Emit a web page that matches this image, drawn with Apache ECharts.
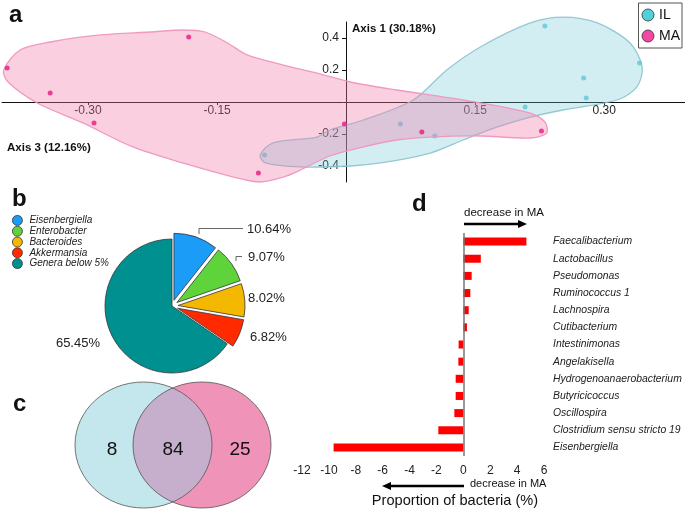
<!DOCTYPE html>
<html><head><meta charset="utf-8">
<script src="https://cdn.jsdelivr.net/npm/echarts@6/dist/echarts.min.js"></script>
<style>html,body{margin:0;padding:0;background:#fff}#c{width:685px;height:514px}</style>
</head><body><div id="c"></div>
<script>
// ---------- Panel a: PCoA scatter ----------
const maPoints = [[-0.394,0.2125],[-0.344,0.056],[-0.293,-0.131],[-0.183,0.406],[-0.102,-0.444],[-0.002,-0.1375],[0.088,-0.188],[0.227,-0.181]];
const ilPoints = [[-0.095,-0.331],[0.063,-0.1375],[0.103,-0.213],[0.208,-0.031],[0.231,0.475],[0.276,0.15],[0.279,0.025],[0.341,0.244]];
const maHull = [[-0.398,0.2],[-0.379,0.325],[-0.344,0.375],[-0.286,0.419],[-0.228,0.4375],[-0.19,0.45],[-0.164,0.4375],[-0.138,0.369],[-0.115,0.294],[-0.073,0.231],[-0.034,0.181],[0.005,0.125],[0.059,0.075],[0.136,0.0125],[0.214,-0.069],[0.231,-0.125],[0.233,-0.194],[0.214,-0.225],[0.156,-0.2125],[0.098,-0.219],[0.059,-0.2375],[0.02,-0.281],[-0.019,-0.3375],[-0.053,-0.425],[-0.073,-0.469],[-0.1,-0.5],[-0.131,-0.469],[-0.19,-0.381],[-0.248,-0.281],[-0.306,-0.131],[-0.359,-0.006],[-0.393,0.125]];
const ilHull = [[-0.019,-0.175],[0.02,-0.1125],[0.078,0.0125],[0.117,0.2],[0.156,0.344],[0.214,0.494],[0.252,0.531],[0.292,0.494],[0.33,0.369],[0.344,0.219],[0.338,0.094],[0.315,0.0125],[0.252,-0.05],[0.214,-0.094],[0.176,-0.156],[0.136,-0.2375],[0.098,-0.319],[0.04,-0.381],[0.005,-0.4],[-0.053,-0.406],[-0.094,-0.381],[-0.1,-0.331],[-0.085,-0.256],[-0.034,-0.219]];
const aXTicks = [-0.30,-0.15,0.15,0.30];
const aYTicks = [-0.4,-0.2,0.2,0.4];
const groupNames = ['IL','MA'];

// ---------- Panel b: pie ----------
const pieNames = ['Eisenbergiella','Enterobacter','Bacteroides','Akkermansia','Genera below 5%'];
const pieValues = [10.64, 9.07, 8.02, 6.82, 65.45];

// ---------- Panel c: Venn ----------
const vennCounts = [8, 84, 25];

// ---------- Panel d: bars ----------
const genera = ['Faecalibacterium','Lactobacillus','Pseudomonas','Ruminococcus 1','Lachnospira','Cutibacterium','Intestinimonas','Angelakisella','Hydrogenoanaerobacterium','Butyricicoccus','Oscillospira','Clostridium sensu stricto 19','Eisenbergiella'];
const diffValues = [4.69, 1.3, 0.62, 0.52, 0.4, 0.27, -0.35, -0.37, -0.57, -0.57, -0.67, -1.86, -9.65];

// ---------- styles / layout ----------
const FONT = 'Liberation Sans, Arial, Helvetica, sans-serif';
const pieColors = ['#1a9cf7','#5ed43a','#f5b800','#ff2a00','#009090'];
const pieLabelPos = [[247,229,'left'],[248,257,'left'],[248,298,'left'],[250,337,'left'],[100,343,'right']];
const pieLinePts = [[[199,234],[199,228.5],[243,228.5]],[[236,261],[236,256.5],[242,256.5]]];
const vL = {cx:143.5, cy:445, rx:68.5, ry:63};
const vR = {cx:202, cy:445, rx:69, ry:63};
const vennTextX = [112, 173, 240];

const chart = echarts.init(document.getElementById('c'), null, {renderer:'canvas'});

function hull(name, pts, fill, stroke, z) {
  return {
    type:'custom', name:name, xAxisIndex:0, yAxisIndex:0, silent:true, z:z,
    data:[[0,0]],
    renderItem:(params, api) => ({
      type:'polygon',
      shape:{points: pts.map(p => api.coord(p)), smooth:0.3},
      style:{fill:fill, stroke:stroke, lineWidth:1.3}
    })
  };
}

// lens of the Venn, sampled along both ellipse arcs
const xi = (vL.cx*vR.rx + vR.cx*vL.rx)/(vL.rx+vR.rx);
const tL = Math.acos((xi-vL.cx)/vL.rx);
const tR = Math.acos((xi-vR.cx)/vR.rx);
const lensPts = [];
const N = 40;
for (let i=0;i<=N;i++){ const t=-tL+2*tL*i/N; lensPts.push([vL.cx+vL.rx*Math.cos(t), vL.cy+vL.ry*Math.sin(t)]); }
for (let i=0;i<=N;i++){ const t=tR+(2*Math.PI-2*tR)*i/N; lensPts.push([vR.cx+vR.rx*Math.cos(t), vR.cy+vR.ry*Math.sin(t)]); }

function txt(x, y, text, font, align, fill) {
  return {type:'text', x:x, y:y, silent:true, z:10,
    style:{text:text, font:font, textAlign:align||'left', textVerticalAlign:'middle', fill:fill||'#111'}};
}

const pieLabelGraphics = pieValues.map((v,i)=>txt(pieLabelPos[i][0], pieLabelPos[i][1], v.toFixed(2)+'%', '13px '+FONT, pieLabelPos[i][2], '#222'));
const pieLineGraphics = pieLinePts.map(p=>({type:'polyline', shape:{points:p}, style:{stroke:'#666', lineWidth:1, fill:'none'}, silent:true, z:10}));

const option = {
  animation:false,
  textStyle:{fontFamily:FONT},
  grid:[
    {left:2, width:684, top:22, height:160, containLabel:false, outerBoundsMode:'none'},
    {left:302, width:242, top:233, height:223, containLabel:false, outerBoundsMode:'none'}
  ],
  xAxis:[
    {gridIndex:0, type:'value', min:-0.4, max:0.395, position:'bottom', offset:-80,
     axisLine:{onZero:false, lineStyle:{color:'#111', width:1}},
     axisTick:{show:true, customValues:aXTicks, length:3, lineStyle:{color:'#111'}},
     axisLabel:{customValues:aXTicks, formatter:v=>v.toFixed(2), fontSize:12, color:'#222', margin:3},
     splitLine:{show:false}},
    {gridIndex:1, type:'value', min:-12, max:6, interval:2, offset:1,
     axisLine:{onZero:false, lineStyle:{color:'#333', width:1}},
     axisTick:{show:false},
     axisLabel:{fontSize:12, color:'#222', margin:8},
     splitLine:{show:false}}
  ],
  yAxis:[
    {gridIndex:0, type:'value', min:-0.5, max:0.5, position:'left', offset:-344,
     axisLine:{onZero:false, lineStyle:{color:'#111', width:1}},
     axisTick:{show:true, customValues:aYTicks, length:4, lineStyle:{color:'#111'}},
     axisLabel:{customValues:aYTicks, formatter:v=>v.toFixed(1), fontSize:12, color:'#222', margin:7},
     splitLine:{show:false}},
    {gridIndex:1, type:'category', data:genera, inverse:true, position:'right',
     axisLine:{show:false, onZero:false}, axisTick:{show:false},
     axisLabel:{align:'left', margin:9, fontSize:10.4, fontStyle:'italic', color:'#222'}}
  ],
  legend:[
    {data:[{name:groupNames[0], itemStyle:{color:'#22c6cf'}},{name:groupNames[1], itemStyle:{color:'#ef1a8a'}}],
     right:3, top:3, orient:'vertical', icon:'circle', itemWidth:12, itemHeight:12, itemGap:7,
     padding:[5,2,5,3], borderColor:'#555', borderWidth:1, backgroundColor:'#fff',
     textStyle:{fontSize:14, color:'#111'}, itemStyle:{borderColor:'#333', borderWidth:1}, selectedMode:false},
    {data:pieNames, left:12, top:215, orient:'vertical', icon:'circle', itemWidth:10, itemHeight:10, itemGap:0,
     padding:0, textStyle:{fontSize:10, fontStyle:'italic', color:'#222', padding:[0,0,0,2]},
     itemStyle:{borderColor:'#333', borderWidth:0.8}, selectedMode:false}
  ],
  series:[
    hull('ILhull', ilHull, 'rgba(110,200,215,0.3)', 'rgba(140,195,205,0.9)', 1),
    {type:'scatter', name:groupNames[0], xAxisIndex:0, yAxisIndex:0, data:ilPoints, symbolSize:5, z:2,
     itemStyle:{color:'#5cc8da'}, silent:true},
    hull('MAhull', maHull, 'rgba(240,120,170,0.35)', 'rgba(240,150,190,0.95)', 3),
    {type:'scatter', name:groupNames[1], xAxisIndex:0, yAxisIndex:0, data:maPoints, symbolSize:5, z:4,
     itemStyle:{color:'#e8197f'}, silent:true},
    {type:'pie', center:[172,306], radius:67, startAngle:90, clockwise:true,
     selectedMode:'multiple', selectedOffset:6, silent:true,
     data:pieNames.map((n,i)=>({name:n, value:pieValues[i], selected:i<4, itemStyle:{color:pieColors[i]}})),
     itemStyle:{borderColor:'#333', borderWidth:0.8},
     select:{itemStyle:{borderColor:'#333', borderWidth:0.8}},
     emphasis:{disabled:true},
     label:{show:false}, labelLine:{show:false}},
    {type:'bar', xAxisIndex:1, yAxisIndex:1, data:diffValues, barWidth:8, silent:true,
     itemStyle:{color:'#ff0000'},
     markLine:{silent:true, symbol:'none', label:{show:false}, animation:false,
       lineStyle:{color:'#777', width:1.5, type:'solid'}, data:[{xAxis:0}]}}
  ],
  graphic:[
    txt(9, 15, 'a', 'bold 24px '+FONT),
    txt(12, 199, 'b', 'bold 24px '+FONT),
    txt(13, 404, 'c', 'bold 24px '+FONT),
    txt(412, 204, 'd', 'bold 24px '+FONT),
    txt(352, 29, 'Axis 1 (30.18%)', 'bold 11.5px '+FONT),
    txt(7, 148, 'Axis 3 (12.16%)', 'bold 11.5px '+FONT),
    ...pieLabelGraphics,
    ...pieLineGraphics,
    {type:'ellipse', shape:{cx:vL.cx, cy:vL.cy, rx:vL.rx, ry:vL.ry}, style:{fill:'#c4e7ed'}, silent:true, z:5},
    {type:'ellipse', shape:{cx:vR.cx, cy:vR.cy, rx:vR.rx, ry:vR.ry}, style:{fill:'#f093b9'}, silent:true, z:5},
    {type:'polygon', shape:{points:lensPts}, style:{fill:'#c6afcc'}, silent:true, z:6},
    {type:'ellipse', shape:{cx:vL.cx, cy:vL.cy, rx:vL.rx, ry:vL.ry}, style:{fill:'none', stroke:'#555', lineWidth:0.8}, silent:true, z:7},
    {type:'ellipse', shape:{cx:vR.cx, cy:vR.cy, rx:vR.rx, ry:vR.ry}, style:{fill:'none', stroke:'#555', lineWidth:0.8}, silent:true, z:7},
    txt(vennTextX[0], 449.5, String(vennCounts[0]), '19px '+FONT, 'center'),
    txt(vennTextX[1], 449.5, String(vennCounts[1]), '19px '+FONT, 'center'),
    txt(vennTextX[2], 449.5, String(vennCounts[2]), '19px '+FONT, 'center'),
    txt(464, 213, 'decrease in MA', '11.5px '+FONT),
    {type:'line', shape:{x1:464, y1:224, x2:520, y2:224}, style:{stroke:'#000', lineWidth:2.5}, silent:true},
    {type:'polygon', shape:{points:[[518,220],[527,224],[518,228]]}, style:{fill:'#000'}, silent:true},
    txt(470, 484, 'decrease in MA', '11px '+FONT),
    {type:'line', shape:{x1:464, y1:486, x2:389, y2:486}, style:{stroke:'#000', lineWidth:2.5}, silent:true},
    {type:'polygon', shape:{points:[[391,482],[382,486],[391,490]]}, style:{fill:'#000'}, silent:true},
    txt(455, 501, 'Proportion of bacteria (%)', '14.6px '+FONT, 'center')
  ]
};
chart.setOption(option);
</script>
</body></html>
